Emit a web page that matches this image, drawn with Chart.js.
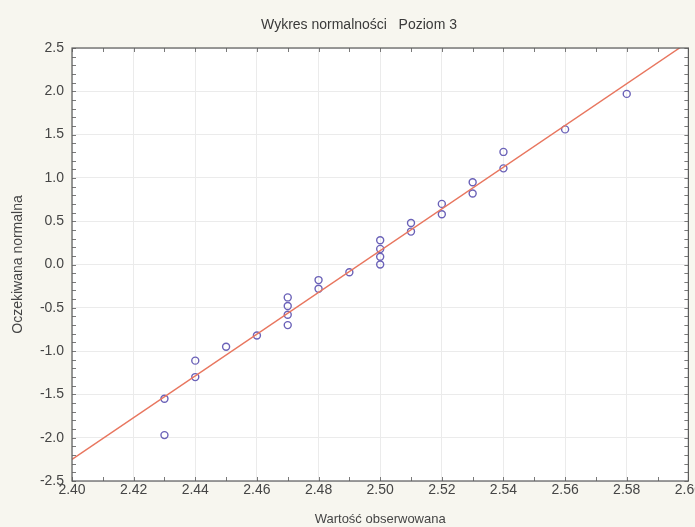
<!DOCTYPE html>
<html>
<head>
<meta charset="utf-8">
<script src="https://cdn.jsdelivr.net/npm/chart.js@4.4.1/dist/chart.umd.min.js"></script>
<style>
  html, body { margin: 0; padding: 0; background: #f7f6ef; overflow: hidden; }
  #wrap { width: 695px; height: 527px; overflow: hidden; }
</style>
</head>
<body>
<div id="wrap"><canvas id="chart" width="703" height="527"></canvas></div>
<script>
/* ── Wykres normalności – dane ── */

// Wartości obserwowane (oś X) i oczekiwane normalne (oś Y)
const observed = [2.43, 2.43, 2.44, 2.44, 2.45, 2.46, 2.47, 2.47, 2.47, 2.47, 2.48, 2.48, 2.49,
                  2.50, 2.50, 2.50, 2.50, 2.51, 2.51, 2.52, 2.52, 2.53, 2.53, 2.54, 2.54, 2.56, 2.58];
const expected = [-1.97, -1.55, -1.30, -1.11, -0.95, -0.82, -0.70, -0.58, -0.48, -0.38, -0.28, -0.18, -0.09,
                  0.00, 0.09, 0.18, 0.28, 0.38, 0.48, 0.58, 0.70, 0.82, 0.95, 1.11, 1.30, 1.56, 1.97];

// Linia dopasowania (odczytane końce)
const fitX = [2.40, 2.60];
const fitY = [-2.25, 2.57];

// Etykiety osi
const xTicks = [2.40, 2.42, 2.44, 2.46, 2.48, 2.50, 2.52, 2.54, 2.56, 2.58, 2.60];
const yTicks = [-2.5, -2.0, -1.5, -1.0, -0.5, 0.0, 0.5, 1.0, 1.5, 2.0, 2.5];
const chartTitle = 'Wykres normalności   Poziom 3';

const FONT = "'Liberation Sans', Arial, sans-serif";
const TXT  = '#454545';

// ── Plugin: tytuł, białe tło wykresu, ramka i drobne kreski ──────────────────
const frame = {
  id: 'frame',
  beforeDraw(chart) {
    const { ctx, chartArea: a } = chart;
    ctx.save();
    ctx.fillStyle = '#ffffff';
    ctx.fillRect(a.left, a.top, a.right - a.left, a.bottom - a.top);
    ctx.fillStyle = '#3a3a3a';
    ctx.font = `14px ${FONT}`;
    ctx.textAlign = 'center';
    ctx.textBaseline = 'middle';
    ctx.fillText(chartTitle, 359, 25);
    ctx.restore();
  },
  afterDatasetsDraw(chart) {
    const { ctx, chartArea: a, scales } = chart;
    ctx.save();
    ctx.strokeStyle = '#7a7a7a';
    ctx.lineWidth = 1;
    ctx.beginPath();
    for (let i = 0; i <= 20; i++) {
      const x = Math.round(scales.x.getPixelForValue(2.40 + i * 0.01)) + 0.5;
      ctx.moveTo(x, a.top); ctx.lineTo(x, a.top + 4);
      ctx.moveTo(x, a.bottom); ctx.lineTo(x, a.bottom - 4);
    }
    for (let i = 0; i <= 50; i++) {
      const y = Math.round(scales.y.getPixelForValue(-2.5 + i * 0.1)) + 0.5;
      ctx.moveTo(a.left, y); ctx.lineTo(a.left + 4, y);
      ctx.moveTo(a.right, y); ctx.lineTo(a.right - 4, y);
    }
    ctx.stroke();
    ctx.strokeStyle = '#5a5a5a';
    ctx.lineWidth = 1.2;
    ctx.strokeRect(a.left, a.top, a.right - a.left, a.bottom - a.top);
    ctx.restore();
  },
};

// ── Wykres ───────────────────────────────────────────────────────────────────
new Chart(document.getElementById('chart'), {
  type: 'scatter',
  data: {
    datasets: [
      {
        type: 'line',
        data: fitX.map((x, i) => ({ x, y: fitY[i] })),
        borderColor: '#e8765f',
        borderWidth: 1.4,
        pointRadius: 0,
        fill: false,
      },
      {
        data: observed.map((x, i) => ({ x, y: expected[i] })),
        borderColor: '#6b62b8',
        backgroundColor: 'rgba(0,0,0,0)',
        borderWidth: 1.4,
        pointRadius: 3.5,
      },
    ],
  },
  options: {
    responsive: false,
    animation: false,
    layout: { padding: { left: 0, right: 8, top: 48, bottom: 0 } },
    plugins: {
      legend: { display: false },
      tooltip: { enabled: false },
      title: { display: false },
    },
    scales: {
      x: {
        type: 'linear',
        min: 2.40, max: 2.60,
        afterBuildTicks: s => { s.ticks = xTicks.map(v => ({ value: v })); },
        afterFit: s => { s.height = 46; },
        ticks: { color: TXT, font: { family: FONT, size: 14 }, padding: 1, maxRotation: 0,
                 callback: v => v.toFixed(2) },
        grid: { color: '#ebebeb', drawTicks: false },
        border: { display: false },
        title: { display: true, text: 'Wartość obserwowana', color: TXT,
                 font: { family: FONT, size: 13 }, padding: { top: 0, bottom: 0 } },
      },
      y: {
        min: -2.5, max: 2.5,
        afterBuildTicks: s => { s.ticks = yTicks.map(v => ({ value: v })); },
        afterFit: s => { s.width = 72; },
        ticks: { color: TXT, font: { family: FONT, size: 14 }, padding: 8,
                 callback: v => v.toFixed(1) },
        grid: { color: '#ebebeb', drawTicks: false },
        border: { display: false },
        title: { display: true, text: 'Oczekiwana normalna', color: TXT,
                 font: { family: FONT, size: 14 }, padding: { top: 10, bottom: 0 } },
      },
    },
  },
  plugins: [frame],
});
</script>
</body>
</html>
